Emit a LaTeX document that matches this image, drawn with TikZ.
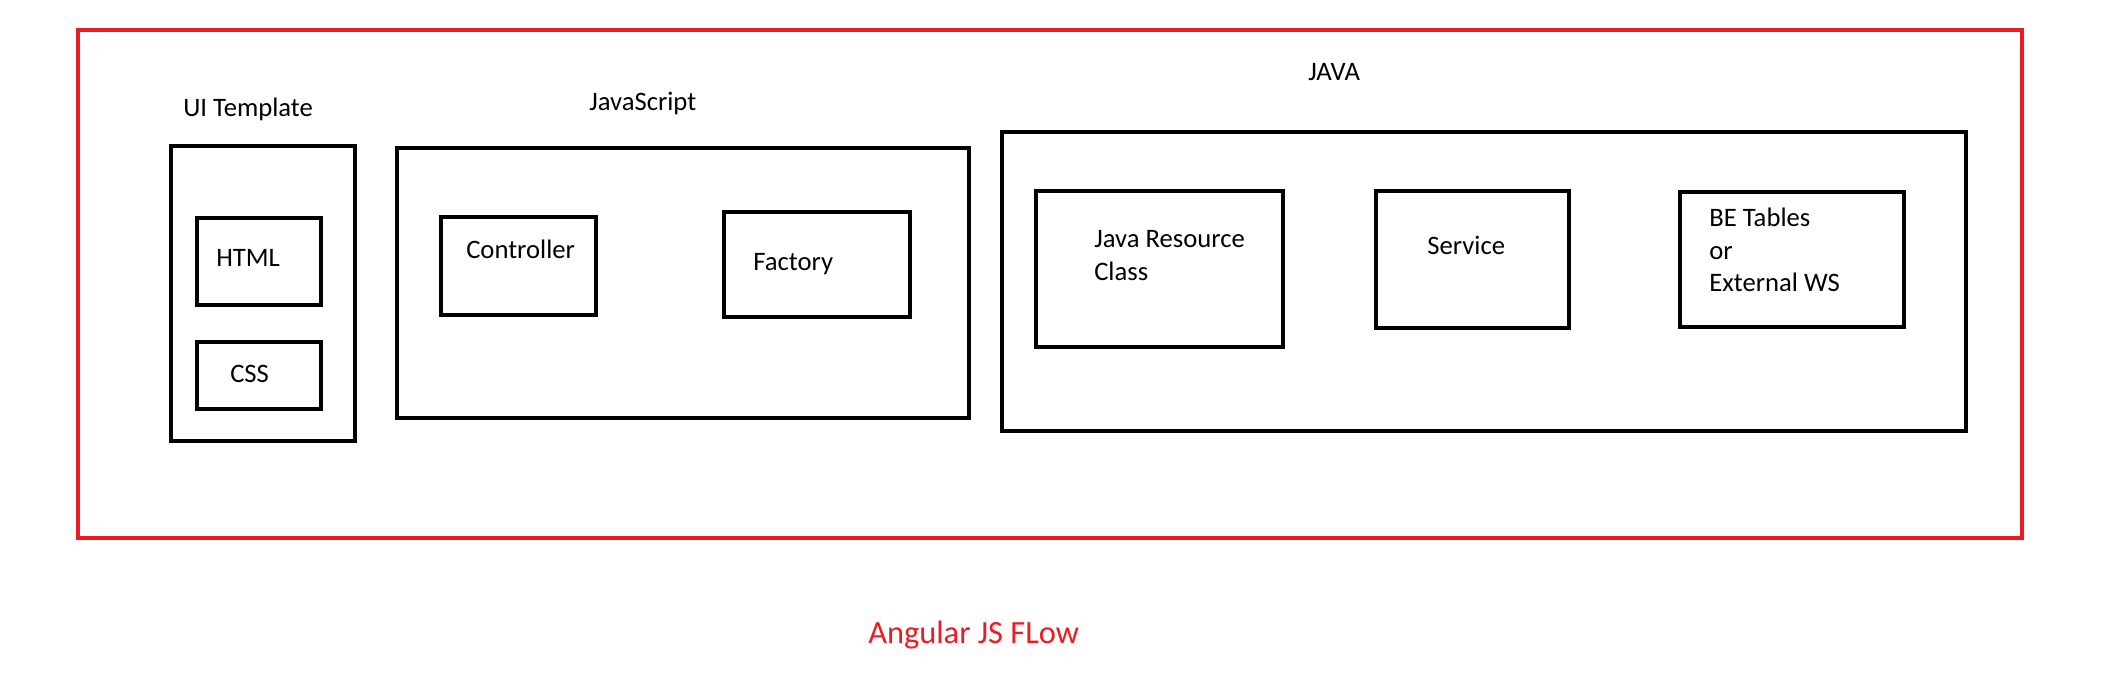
\documentclass[tikz,border=0pt]{standalone}
\usepackage{fontspec}
\setmainfont{Carlito}
\usetikzlibrary{fit}
\definecolor{paintred}{RGB}{237,28,36}
\tikzset{
  box/.style={draw=black, line width=3.6pt, inner sep=0pt, fill=none},
  redbox/.style={draw=paintred, line width=3.4pt, inner sep=0pt},
  lbl/.style={anchor=base west, inner sep=0pt, font=\fontsize{20}{24}\selectfont},
  title/.style={anchor=base west, inner sep=0pt, text=paintred, font=\fontsize{24.3}{29}\selectfont}
}
\begin{document}
\begin{tikzpicture}[x=0.75pt, y=-0.75pt]
\useasboundingbox (0,0) rectangle (2115,693);
% outer red frame
\node[redbox, fit={(78,30) (2022,538)}] (frame) {};
% UI Template group
\node[box, fit={(171,146) (355,441)}] (ui) {};
\node[box, fit={(197,218) (321,305)}] (html) {};
\node[box, fit={(197,342) (321,409)}] (css) {};
\node[lbl] (uiT) at (183,116) {UI Template};
\node[lbl] (htmlT) at (216,266) {HTML};
\node[lbl] (cssT) at (230,382) {CSS};
% JavaScript group
\node[box, fit={(397,148) (969,418)}] (js) {};
\node[box, fit={(441,217) (596,315)}] (ctrl) {};
\node[box, fit={(724,212) (910,317)}] (fact) {};
\node[lbl] (jsT) at (589,110) {JavaScript};
\node[lbl] (ctrlT) at (466,258) {Controller};
\node[lbl] (factT) at (753,270) {Factory};
% JAVA group
\node[box, fit={(1002,132) (1966,431)}] (java) {};
\node[box, fit={(1036,191) (1283,347)}] (jrc) {};
\node[box, fit={(1376,191) (1569,328)}] (svc) {};
\node[box, fit={(1680,192) (1904,327)}] (be) {};
\node[lbl] (javaT) at (1308,80) {JAVA};
\node[lbl] (jrcA) at (1094,247) {Java Resource};
\node[lbl] (jrcB) at (1094,280) {Class};
\node[lbl] (svcT) at (1427,254) {Service};
\node[lbl] (beA) at (1709,226) {BE Tables};
\node[lbl] (beB) at (1709,259) {or};
\node[lbl] (beC) at (1709,291) {External WS};
% caption
\node[title] (cap) at (868,643) {Angular JS FLow};
\end{tikzpicture}
\end{document}
